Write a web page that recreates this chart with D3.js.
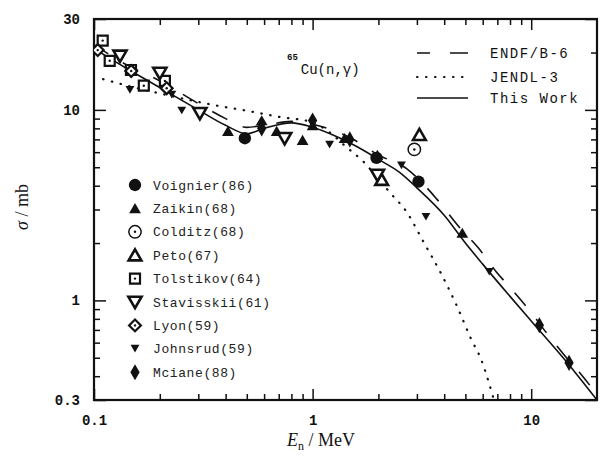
<!DOCTYPE html>
<html><head><meta charset="utf-8">
<script src="https://cdn.jsdelivr.net/npm/d3@7"></script>
<style>body{margin:0;background:#fff}</style>
</head><body><svg id="c" width="603" height="457"></svg>
<script>
// ---- data ----
const xMajorTicks = [0.1, 1, 10];
const xMinorTicks = [0.2,0.3,0.4,0.5,0.6,0.7,0.8,0.9,2,3,4,5,6,7,8,9];
const yMajorTicks = [0.3, 1, 10, 30];
const yMinorTicks = [0.4,0.5,0.6,0.7,0.8,0.9,2,3,4,5,6,7,8,9,20];

const workE = [0.1,0.14,0.2,0.3,0.4,0.5,0.6,0.8,1.0,1.3,1.6,2.0,2.5,3.0,4.0,5.0,6.0,8.0,10,14,20];
const workS = [21,16.6,13.1,10.0,8.3,7.5,8.0,8.55,8.1,7.2,6.4,5.5,4.7,3.9,2.8,2.0,1.55,1.05,0.78,0.5,0.3];

const endfE = [0.1,0.14,0.2,0.3,0.4,0.5,0.6,0.8,1.0,1.5,2.0,2.7,3.2,3.7,4.8,5.7,6.9,8.1,10.1,11.7,14.5,16.6,20];
const endfS = [22,17.3,14.2,10.8,9.0,8.1,8.3,8.7,8.4,7.1,5.8,4.9,4.1,3.4,2.35,1.9,1.42,1.15,0.85,0.68,0.5,0.42,0.32];

const jendlE = [0.11,0.15,0.2,0.27,0.37,0.5,0.7,1.0,1.2,1.4,1.73,2.0,2.25,2.7,3.2,3.9,4.6,5.3,5.9,6.7];
const jendlS = [14.5,13.2,12.2,11.3,10.5,9.9,9.2,8.6,7.6,6.5,5.27,4.35,3.7,2.9,2.05,1.36,0.92,0.63,0.49,0.31];

const voignierE = [0.49,1.96,3.05];
const voignierS = [7.1,5.6,4.2];
const zaikinE = [0.41,0.585,0.685,0.9,1.0,1.4,1.98,4.84];
const zaikinS = [7.75,8.8,7.75,6.95,8.3,7.1,5.8,2.26];
const colditzE = [2.92];
const colditzS = [6.2];
const petoE = [2.07,3.08];
const petoS = [4.3,7.4];
const tolstikovE = [0.1096,0.118,0.1476,0.169,0.211];
const tolstikovS = [23.1,18.1,16.2,13.4,14.2];
const stavisskiiE = [0.1315,0.2,0.305,0.745,1.98];
const stavisskiiS = [19.2,15.6,9.6,7.1,4.55];
const lyonE = [0.104,0.148,0.215];
const lyonS = [20.6,16.0,13.0];
const johnsrudE = [0.146,0.227,0.252,1.196,2.55,3.3,6.43];
const johnsrudS = [12.7,12.0,9.9,6.55,5.1,2.74,1.41];
const mcianeE = [0.585,1.0,1.48,10.9,14.9];
const mcianeS = [8.0,8.8,7.0,0.74,0.47];

const seriesNames = ["Voignier(86)","Zaikin(68)","Colditz(68)","Peto(67)","Tolstikov(64)","Stavisskii(61)","Lyon(59)","Johnsrud(59)","Mciane(88)"];
const curveNames = ["ENDF/B-6","JENDL-3","This Work"];

// ---- scales ----
const svg = d3.select("#c");
const x = d3.scaleLog().domain([0.1,20]).range([94,597]);
const y = d3.scaleLog().domain([0.3,30]).range([400,19]);
const X0=94, X1=597, Y0=400, Y1=19;
const ink = "#111";

// ---- axes ----
function styleAxis(g){
  g.select(".domain").remove();
  g.selectAll(".tick line").attr("stroke",ink).attr("stroke-width",1.5);
  g.selectAll(".tick text").attr("fill",ink)
    .style("font-family","'Liberation Mono', monospace").style("font-weight","bold").style("font-size","14px");
}
const fmt = d => d===0.1?"0.1":d===0.3?"0.3":String(d);
svg.append("g").attr("transform",`translate(0,${Y0})`)
  .call(d3.axisBottom(x).tickValues(xMajorTicks).tickSize(-11).tickPadding(15).tickFormat(fmt)).call(styleAxis);
svg.append("g").attr("transform",`translate(0,${Y0})`)
  .call(d3.axisBottom(x).tickValues(xMinorTicks).tickSize(-6).tickFormat("")).call(styleAxis);
svg.append("g").attr("transform",`translate(0,${Y1})`)
  .call(d3.axisTop(x).tickValues(xMajorTicks).tickSize(-11).tickFormat("")).call(styleAxis);
svg.append("g").attr("transform",`translate(0,${Y1})`)
  .call(d3.axisTop(x).tickValues(xMinorTicks).tickSize(-6).tickFormat("")).call(styleAxis);
svg.append("g").attr("transform",`translate(${X0},0)`)
  .call(d3.axisLeft(y).tickValues(yMajorTicks).tickSize(-12).tickPadding(14).tickFormat(fmt)).call(styleAxis);
svg.append("g").attr("transform",`translate(${X0},0)`)
  .call(d3.axisLeft(y).tickValues(yMinorTicks).tickSize(-6).tickFormat("")).call(styleAxis);
svg.append("g").attr("transform",`translate(${X1},0)`)
  .call(d3.axisRight(y).tickValues(yMajorTicks).tickSize(-12).tickFormat("")).call(styleAxis);
svg.append("g").attr("transform",`translate(${X1},0)`)
  .call(d3.axisRight(y).tickValues(yMinorTicks).tickSize(-6).tickFormat("")).call(styleAxis);

svg.append("rect").attr("x",X0).attr("y",Y1).attr("width",X1-X0).attr("height",Y0-Y1)
  .attr("fill","none").attr("stroke",ink).attr("stroke-width",2.2);

// ---- clip ----
svg.append("clipPath").attr("id","clip").append("rect")
  .attr("x",X0).attr("y",Y1).attr("width",X1-X0).attr("height",Y0-Y1);
const plot = svg.append("g").attr("clip-path","url(#clip)");

// ---- curves ----
const line = d3.line().x(d=>x(d[0])).y(d=>y(d[1])).curve(d3.curveMonotoneX);
const zip = (a,b)=>a.map((v,i)=>[v,b[i]]);
const curveStyles = {
  "ENDF/B-6": {dash:"17,17", w:1.6, cap:"butt"},
  "JENDL-3": {dash:"0.5,8.5", w:2.2, cap:"round"},
  "This Work": {dash:null, w:1.6, cap:"butt"}
};
const curveData = {"ENDF/B-6":zip(endfE,endfS),"JENDL-3":zip(jendlE,jendlS),"This Work":zip(workE,workS)};
curveNames.forEach(n=>{
  const s=curveStyles[n];
  plot.append("path").datum(curveData[n]).attr("d",line).attr("fill","none")
    .attr("stroke",ink).attr("stroke-width",s.w).attr("stroke-linecap",s.cap)
    .attr("stroke-dasharray",s.dash);
});

// ---- markers ----
const T = d3.symbolTriangle, C = d3.symbolCircle, S = d3.symbolSquare, D = d3.symbolDiamond;
const markerDefs = {
  "Voignier(86)":  {type:C,size:120,fill:ink,stroke:"none",rot:0,dot:false,sw:0},
  "Zaikin(68)":    {type:T,size:60,fill:ink,stroke:"none",rot:0,dot:false,sw:0},
  "Colditz(68)":   {type:C,size:120,fill:"#fff",stroke:ink,rot:0,dot:true,sw:1.5},
  "Peto(67)":      {type:T,size:70,fill:"#fff",stroke:ink,rot:0,dot:false,sw:2.6},
  "Tolstikov(64)": {type:S,size:100,fill:"#fff",stroke:ink,rot:0,dot:true,sw:2.2},
  "Stavisskii(61)":{type:T,size:75,fill:"#fff",stroke:ink,rot:180,dot:false,sw:2.6},
  "Lyon(59)":      {type:S,size:70,fill:"#fff",stroke:ink,rot:45,dot:true,sw:2.2},
  "Johnsrud(59)":  {type:T,size:34,fill:ink,stroke:"none",rot:180,dot:false,sw:0},
  "Mciane(88)":    {type:D,size:75,fill:ink,stroke:"none",rot:0,dot:false,sw:0}
};
const markerData = {
  "Voignier(86)":zip(voignierE,voignierS),
  "Zaikin(68)":zip(zaikinE,zaikinS),
  "Colditz(68)":zip(colditzE,colditzS),
  "Peto(67)":zip(petoE,petoS),
  "Tolstikov(64)":zip(tolstikovE,tolstikovS),
  "Stavisskii(61)":zip(stavisskiiE,stavisskiiS),
  "Lyon(59)":zip(lyonE,lyonS),
  "Johnsrud(59)":zip(johnsrudE,johnsrudS),
  "Mciane(88)":zip(mcianeE,mcianeS)
};
function drawMarker(g, m, px, py){
  const yOff = m.type===T ? (m.rot===180 ? -1.5 : 1.5) : 0;
  g.append("path").attr("d",d3.symbol().type(m.type).size(m.size)())
    .attr("transform",`translate(${px},${py+yOff}) rotate(${m.rot})`)
    .attr("fill",m.fill).attr("stroke",m.stroke).attr("stroke-width",m.sw);
  if(m.dot) g.append("circle").attr("cx",px).attr("cy",py).attr("r",1.2).attr("fill",ink);
}
seriesNames.forEach(n=>{
  markerData[n].forEach(d=>drawMarker(plot, markerDefs[n], x(d[0]), y(d[1])));
});

// ---- left legend ----
const lg = svg.append("g");
seriesNames.forEach((n,i)=>{
  const ly = 185 + i*23.4;
  drawMarker(lg, markerDefs[n], 135, ly);
  lg.append("text").attr("x",153).attr("y",ly).attr("dy","0.35em").text(n)
    .style("font-family","'Liberation Mono', monospace").style("font-size","13px")
    .style("letter-spacing","0.6px").attr("fill","#222");
});

// ---- right legend ----
const rg = svg.append("g");
curveNames.forEach((n,i)=>{
  const ly = [53,77,98][i];
  const s = curveStyles[n];
  rg.append("line").attr("x1",417).attr("x2",468).attr("y1",ly).attr("y2",ly)
    .attr("stroke",ink).attr("stroke-width",s.w).attr("stroke-linecap",s.cap)
    .attr("stroke-dasharray", n==="ENDF/B-6" ? "13,20,18" : s.dash);
  rg.append("text").attr("x",490).attr("y",ly).attr("dy","0.35em").text(n)
    .style("font-family","'Liberation Mono', monospace").style("font-size","14px")
    .style("letter-spacing","1.5px").attr("fill",ink);
});

// ---- reaction label ----
const rl = svg.append("text").attr("x",287).attr("y",74)
  .style("font-family","'Liberation Mono', monospace").attr("fill",ink);
rl.append("tspan").text("65").style("font-size","9px").style("font-weight","bold").attr("dy","-14");
rl.append("tspan").text("Cu(n,γ)").style("font-size","14px").attr("dy","14").attr("dx","3");

// ---- axis titles ----
const xt = svg.append("text").attr("x",321).attr("y",446).attr("text-anchor","middle")
  .style("font-family","'Liberation Serif', serif").style("font-size","18px").attr("fill",ink);
xt.append("tspan").text("E").style("font-style","italic");
xt.append("tspan").text("n").style("font-size","12px").attr("dy","4");
xt.append("tspan").text(" / MeV").attr("dy","-4");

const yt = svg.append("text").attr("transform","translate(28,207) rotate(-90)").attr("text-anchor","middle")
  .style("font-family","'Liberation Serif', serif").style("font-size","18px").attr("fill",ink);
yt.append("tspan").text("σ").style("font-style","italic");
yt.append("tspan").text(" / mb");
</script>
</body></html>
